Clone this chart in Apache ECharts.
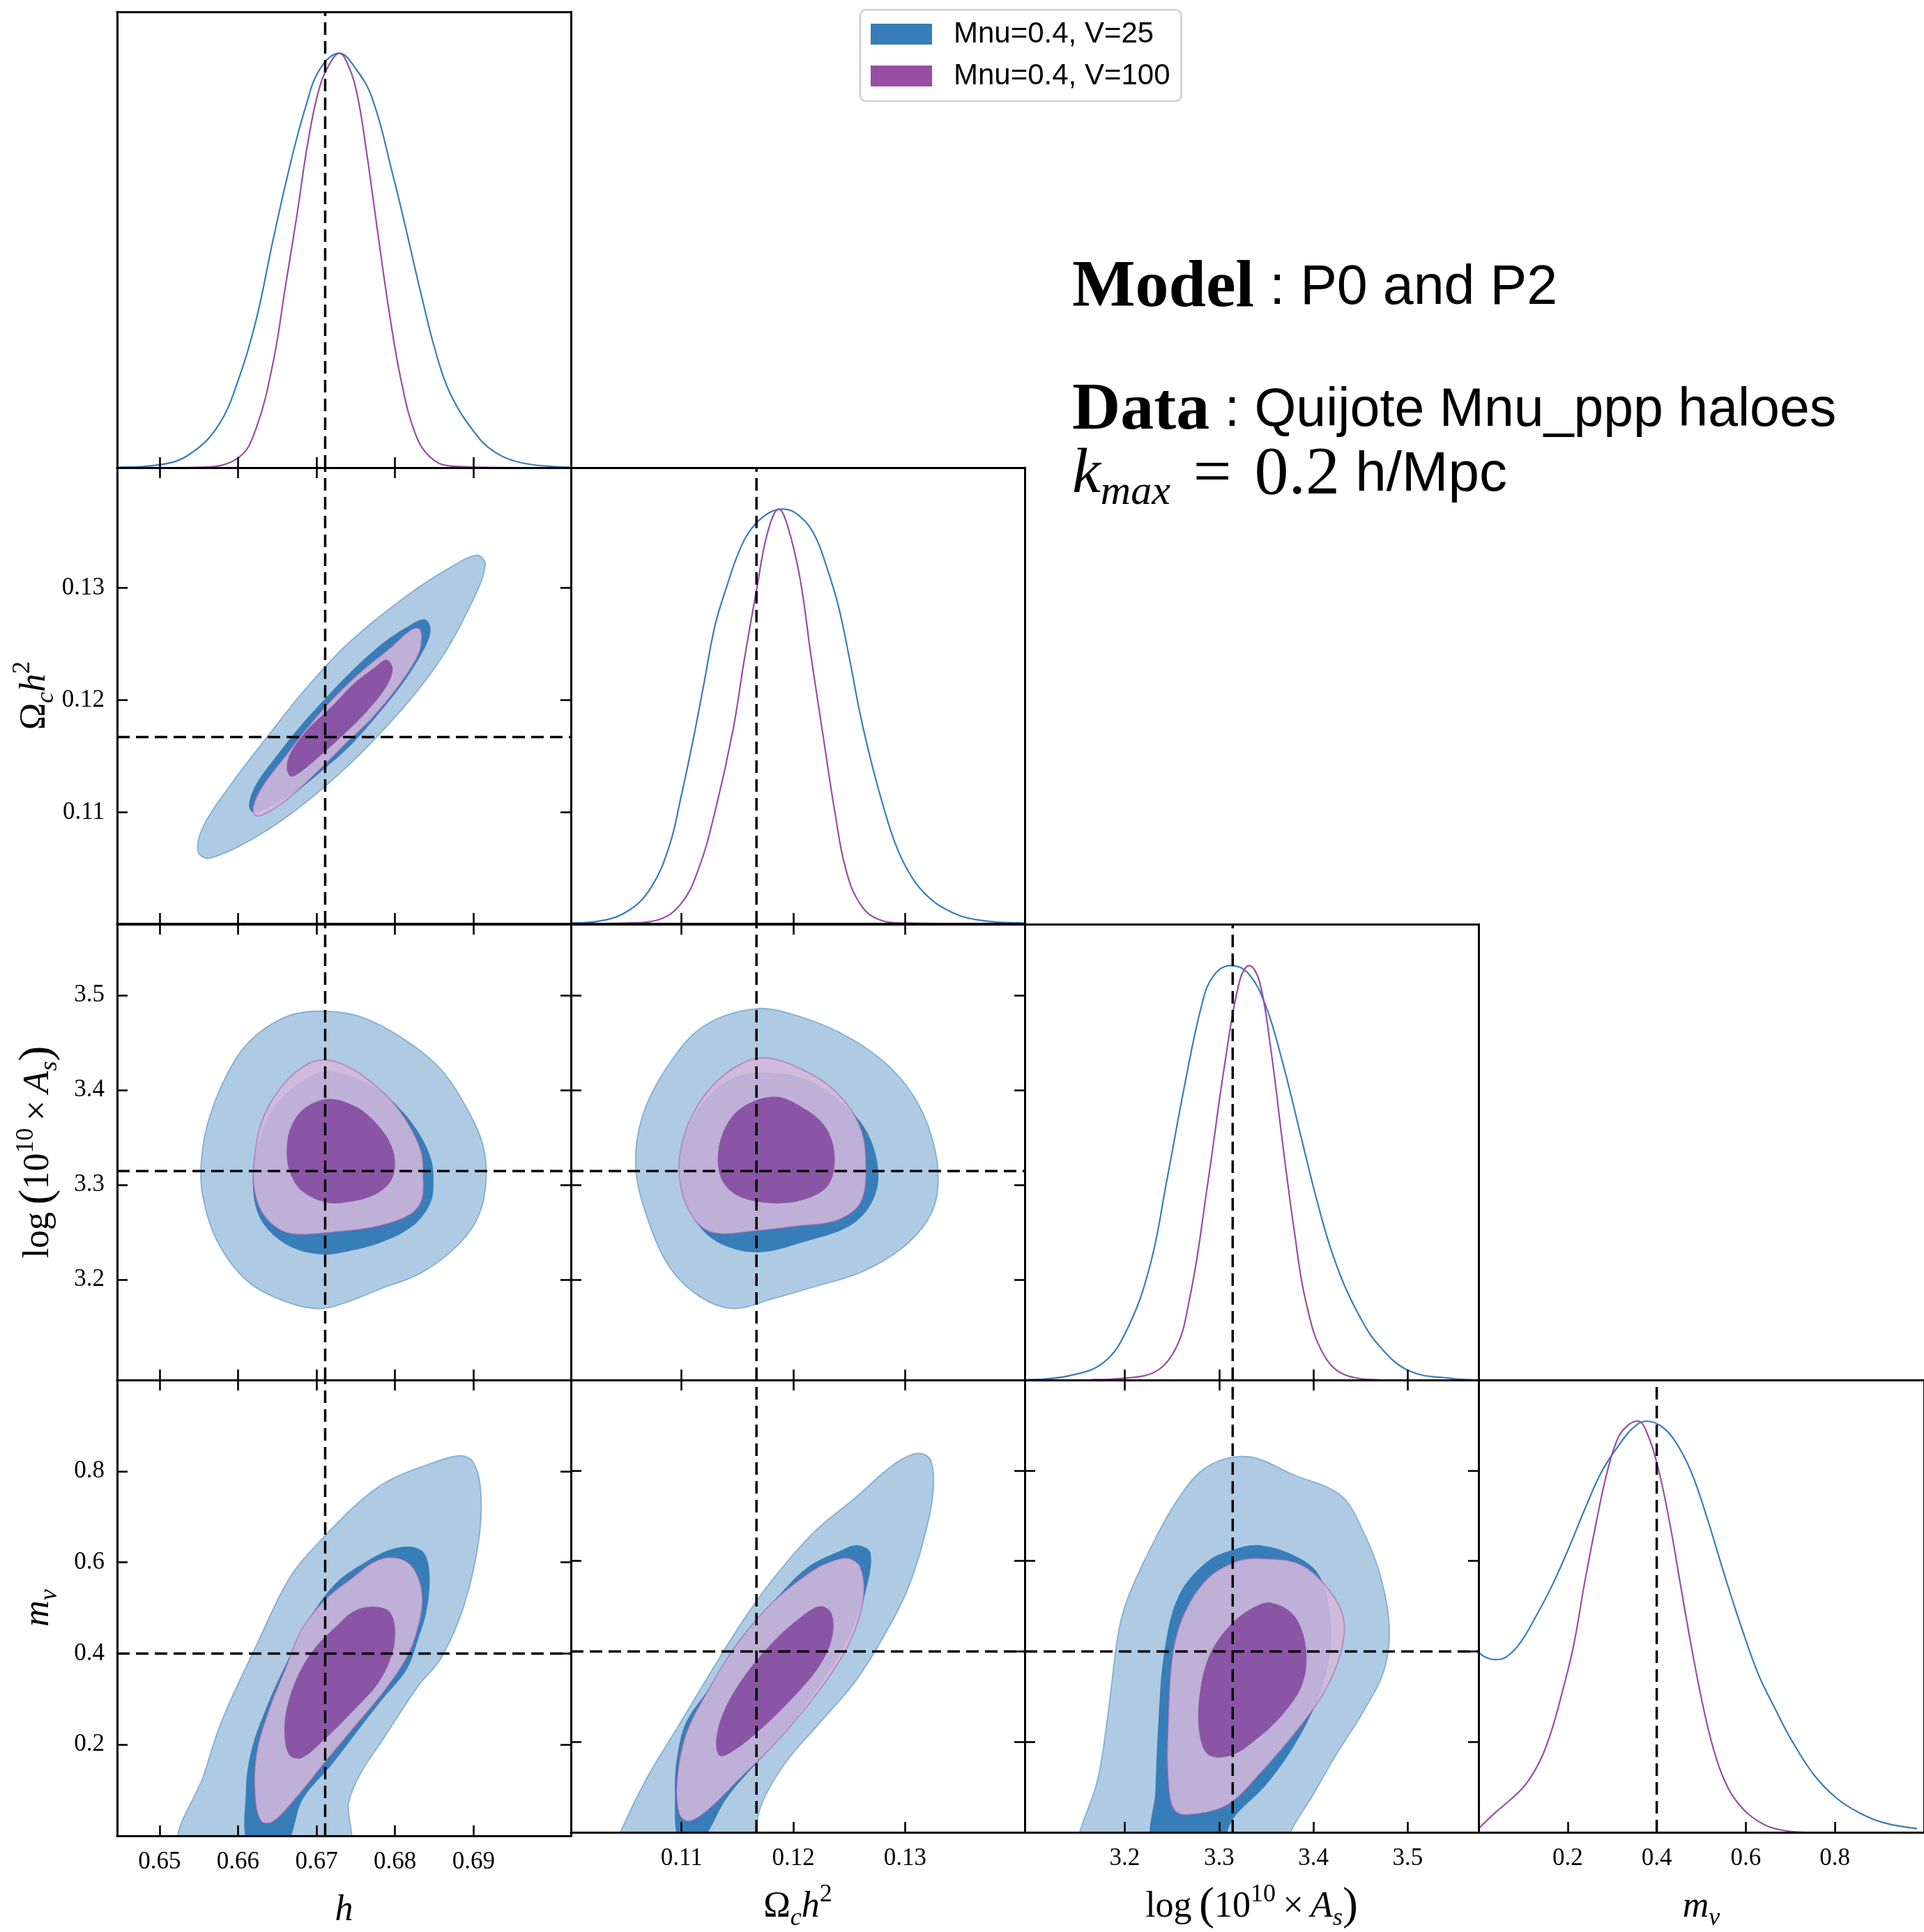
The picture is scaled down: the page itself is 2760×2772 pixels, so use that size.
<!DOCTYPE html>
<html>
<head>
<meta charset="utf-8">
<title>Mnu triangle plot</title>
<script src="https://cdn.jsdelivr.net/npm/echarts@6/dist/echarts.min.js"></script>
<style>
  html, body { margin: 0; padding: 0; background: #fff; }
  #chart { width: 2760px; height: 2772px; }
</style>
</head>
<body>
<div id="chart"></div>
<script>
// ---- parameters: axis ranges, ticks, fiducial values ----
var hRange = [0.6446, 0.7024];
var omRange = [0.1001, 0.1407];
var asRange = [3.094, 3.575];
var mnuRange = [0, 1.0];
var hTicks = [0.65, 0.66, 0.67, 0.68, 0.69];
var omTicks = [0.11, 0.12, 0.13];
var asTicks = [3.2, 3.3, 3.4, 3.5];
var mnuTicks = [0.2, 0.4, 0.6, 0.8];
var truthValues = [0.6711, 0.1167, 3.3144, 0.4];
var legendNames = ['Mnu=0.4, V=25', 'Mnu=0.4, V=100'];

// ---- 1D marginals (normalised to peak 1) ----
var h1dBlue = [[0.6446,0.001],[0.6500,0.007],[0.6538,0.032],[0.6575,0.102],[0.6601,0.215],[0.6623,0.356],[0.6645,0.553],[0.6667,0.736],[0.6686,0.870],[0.6704,0.961],[0.6729,1.0],[0.6748,0.968],[0.6771,0.891],[0.6797,0.708],[0.6815,0.567],[0.6834,0.412],[0.6852,0.278],[0.6870,0.180],[0.6900,0.088],[0.6926,0.039],[0.6963,0.011],[0.7022,0.001]];
var h1dPurple = [[0.6520,0],[0.6556,0.001],[0.6601,0.025],[0.6623,0.095],[0.6645,0.257],[0.6660,0.433],[0.6675,0.609],[0.6689,0.785],[0.6704,0.919],[0.6719,0.982],[0.6729,1.0],[0.6741,0.968],[0.6752,0.898],[0.6763,0.771],[0.6778,0.567],[0.6793,0.370],[0.6808,0.208],[0.6826,0.081],[0.6845,0.025],[0.6870,0.004],[0.6950,0]];
var om1dBlue = [[0.1001,0.001],[0.1027,0.006],[0.1053,0.032],[0.1073,0.088],[0.1089,0.187],[0.1099,0.299],[0.1110,0.439],[0.1120,0.579],[0.1130,0.720],[0.1141,0.818],[0.1151,0.895],[0.1162,0.951],[0.1177,0.989],[0.1191,1.0],[0.1206,0.982],[0.1219,0.937],[0.1229,0.867],[0.1240,0.769],[0.1250,0.642],[0.1260,0.502],[0.1271,0.376],[0.1281,0.278],[0.1291,0.194],[0.1302,0.130],[0.1317,0.074],[0.1338,0.032],[0.1364,0.009],[0.1406,0.001]];
var om1dPurple = [[0.1030,0],[0.1053,0.001],[0.1078,0.008],[0.1099,0.046],[0.1115,0.130],[0.1130,0.271],[0.1146,0.467],[0.1156,0.635],[0.1167,0.804],[0.1177,0.944],[0.1187,1.0],[0.1195,0.958],[0.1206,0.832],[0.1216,0.642],[0.1227,0.446],[0.1237,0.271],[0.1247,0.130],[0.1260,0.046],[0.1276,0.010],[0.1299,0.001],[0.1330,0]];
var as1dBlue = [[3.0975,0.001],[3.1405,0.010],[3.1773,0.042],[3.2018,0.119],[3.2264,0.273],[3.2448,0.484],[3.2632,0.708],[3.2816,0.905],[3.2939,0.975],[3.3123,1.0],[3.3307,0.982],[3.3491,0.905],[3.3675,0.765],[3.3859,0.596],[3.4043,0.428],[3.4227,0.288],[3.4472,0.161],[3.4718,0.077],[3.5025,0.021],[3.5454,0.004],[3.5736,0]];
var as1dPurple = [[3.1650,0.001],[3.2202,0.010],[3.2509,0.063],[3.2693,0.203],[3.2877,0.470],[3.3061,0.764],[3.3215,0.961],[3.3319,1.0],[3.3429,0.961],[3.3552,0.792],[3.3675,0.568],[3.3798,0.358],[3.3920,0.189],[3.4104,0.063],[3.4350,0.011],[3.4718,0]];
var mnu1dBlue = [[0,0.438],[0.0188,0.424],[0.0377,0.420],[0.0628,0.427],[0.0942,0.462],[0.1256,0.519],[0.1633,0.596],[0.2009,0.687],[0.2386,0.786],[0.2763,0.877],[0.3140,0.940],[0.3454,0.982],[0.3768,1.0],[0.4082,0.989],[0.4396,0.954],[0.4772,0.877],[0.5149,0.758],[0.5526,0.624],[0.5903,0.498],[0.6279,0.385],[0.6656,0.301],[0.7033,0.223],[0.7535,0.139],[0.8038,0.083],[0.8540,0.048],[0.9105,0.023],[0.9846,0.009]];
var mnu1dPurple = [[0,0.009],[0.0377,0.048],[0.0754,0.083],[0.1068,0.118],[0.1381,0.174],[0.1633,0.245],[0.1884,0.343],[0.2135,0.455],[0.2386,0.610],[0.2637,0.751],[0.2889,0.877],[0.3140,0.961],[0.3391,0.993],[0.3579,1.0],[0.3768,0.975],[0.4019,0.891],[0.4270,0.765],[0.4521,0.610],[0.4772,0.455],[0.5024,0.315],[0.5275,0.202],[0.5526,0.125],[0.5840,0.069],[0.6279,0.027],[0.6782,0.006],[0.7535,0],[1.0,0]];

// ---- 2D contours: 95% (outer) and 68% (inner) for each run ----
var hOm_b95 = [[0.6904,0.1329],[0.6915,0.1321],[0.6900,0.1290],[0.6852,0.1230],[0.6778,0.1168],[0.6704,0.1119],[0.6630,0.1081],[0.6564,0.1059],[0.6549,0.1065],[0.6556,0.1088],[0.6593,0.1127],[0.6638,0.1168],[0.6686,0.1210],[0.6741,0.1251],[0.6815,0.1293],[0.6870,0.1318]];
var hOm_b68 = [[0.6837,0.1272],[0.6845,0.1265],[0.6841,0.1251],[0.6815,0.1220],[0.6778,0.1187],[0.6741,0.1158],[0.6712,0.1140],[0.6675,0.1119],[0.6638,0.1104],[0.6619,0.1100],[0.6614,0.1107],[0.6623,0.1125],[0.6652,0.1153],[0.6682,0.1179],[0.6712,0.1202],[0.6748,0.1228],[0.6785,0.1251],[0.6815,0.1265]];
var hOm_p95 = [[0.6830,0.1264],[0.6834,0.1258],[0.6830,0.1241],[0.6804,0.1212],[0.6771,0.1184],[0.6737,0.1161],[0.6704,0.1138],[0.6667,0.1114],[0.6638,0.1100],[0.6623,0.1097],[0.6619,0.1104],[0.6630,0.1122],[0.6660,0.1150],[0.6689,0.1176],[0.6719,0.1200],[0.6756,0.1225],[0.6793,0.1246],[0.6819,0.1262]];
var hOm_p68 = [[0.6789,0.1236],[0.6797,0.1228],[0.6789,0.1212],[0.6763,0.1189],[0.6734,0.1169],[0.6704,0.1150],[0.6678,0.1135],[0.6667,0.1132],[0.6662,0.1140],[0.6667,0.1153],[0.6689,0.1174],[0.6719,0.1194],[0.6748,0.1215],[0.6774,0.1229]];

var hAs_b95 = [[0.6712,3.4832],[0.6760,3.4762],[0.6815,3.4517],[0.6859,3.4212],[0.6893,3.3784],[0.6912,3.3418],[0.6916,3.3051],[0.6907,3.2684],[0.6882,3.2379],[0.6834,3.2073],[0.6778,3.1890],[0.6741,3.1768],[0.6704,3.1692],[0.6660,3.1768],[0.6612,3.1982],[0.6575,3.2379],[0.6556,3.2837],[0.6553,3.3234],[0.6564,3.3723],[0.6593,3.4273],[0.6623,3.4578],[0.6667,3.4792]];
var hAs_b68 = [[0.6712,3.4197],[0.6760,3.4090],[0.6797,3.3876],[0.6826,3.3601],[0.6845,3.3295],[0.6849,3.3051],[0.6845,3.2807],[0.6822,3.2562],[0.6778,3.2379],[0.6734,3.2287],[0.6712,3.2263],[0.6675,3.2318],[0.6645,3.2470],[0.6626,3.2684],[0.6619,3.2990],[0.6623,3.3356],[0.6641,3.3754],[0.6671,3.4028]];
var hAs_p95 = [[0.6710,3.4319],[0.6741,3.4242],[0.6771,3.4074],[0.6800,3.3845],[0.6822,3.3570],[0.6834,3.3326],[0.6836,3.3081],[0.6834,3.2837],[0.6819,3.2684],[0.6778,3.2562],[0.6723,3.2501],[0.6675,3.2477],[0.6652,3.2532],[0.6630,3.2715],[0.6620,3.2990],[0.6621,3.3295],[0.6630,3.3662],[0.6652,3.3998],[0.6682,3.4242]];
var hAs_p68 = [[0.6717,3.3906],[0.6752,3.3815],[0.6778,3.3631],[0.6795,3.3418],[0.6800,3.3204],[0.6793,3.3020],[0.6771,3.2883],[0.6737,3.2813],[0.6712,3.2813],[0.6682,3.2929],[0.6667,3.3112],[0.6662,3.3326],[0.6667,3.3601],[0.6686,3.3815]];

var omAs_b95 = [[0.1167,3.4859],[0.1208,3.4767],[0.1250,3.4553],[0.1286,3.4247],[0.1312,3.3849],[0.1327,3.3359],[0.1329,3.2931],[0.1320,3.2625],[0.1296,3.2319],[0.1260,3.2074],[0.1218,3.1921],[0.1182,3.1798],[0.1146,3.1694],[0.1115,3.1829],[0.1089,3.2135],[0.1070,3.2625],[0.1059,3.3176],[0.1065,3.3727],[0.1089,3.4278],[0.1120,3.4676]];
var omAs_b68 = [[0.1172,3.4186],[0.1208,3.4125],[0.1239,3.3910],[0.1265,3.3574],[0.1276,3.3145],[0.1270,3.2808],[0.1250,3.2563],[0.1213,3.2410],[0.1167,3.2288],[0.1130,3.2410],[0.1109,3.2686],[0.1099,3.3053],[0.1102,3.3482],[0.1120,3.3880],[0.1146,3.4125]];
var omAs_p95 = [[0.1172,3.4339],[0.1208,3.4216],[0.1239,3.3971],[0.1260,3.3604],[0.1265,3.3176],[0.1260,3.2808],[0.1239,3.2625],[0.1203,3.2563],[0.1167,3.2514],[0.1130,3.2490],[0.1112,3.2625],[0.1099,3.2992],[0.1100,3.3421],[0.1115,3.3849],[0.1141,3.4186]];
var omAs_p68 = [[0.1182,3.3929],[0.1208,3.3818],[0.1229,3.3604],[0.1237,3.3298],[0.1231,3.2992],[0.1208,3.2839],[0.1177,3.2808],[0.1148,3.2900],[0.1134,3.3114],[0.1135,3.3482],[0.1151,3.3788]];

var hMnu_b95 = [[0.6529,-0.02],[0.6557,0.1364],[0.6579,0.2510],[0.6623,0.4166],[0.6667,0.5694],[0.6711,0.6586],[0.6756,0.7350],[0.6792,0.7796],[0.6837,0.8115],[0.6881,0.8338],[0.6899,0.8210],[0.6909,0.7605],[0.6907,0.6522],[0.6888,0.5058],[0.6859,0.3911],[0.6829,0.3274],[0.6785,0.2128],[0.6756,0.1364],[0.6741,0.0727],[0.6738,-0.02]];
var hMnu_b68 = [[0.6818,0.6344],[0.6837,0.6204],[0.6844,0.5694],[0.6840,0.4930],[0.6829,0.4293],[0.6815,0.3656],[0.6785,0.3019],[0.6756,0.2383],[0.6719,0.1555],[0.6682,0.0790],[0.6660,-0.02],[0.6614,-0.02],[0.6610,0.0981],[0.6617,0.1873],[0.6638,0.2892],[0.6667,0.3975],[0.6697,0.4930],[0.6726,0.5567],[0.6763,0.6013],[0.6792,0.6268]];
var hMnu_p95 = [[0.6792,0.6108],[0.6815,0.6013],[0.6829,0.5694],[0.6835,0.5185],[0.6829,0.4548],[0.6815,0.3911],[0.6785,0.3147],[0.6748,0.2383],[0.6711,0.1618],[0.6675,0.0854],[0.6645,0.0313],[0.6630,0.0313],[0.6622,0.0790],[0.6623,0.1746],[0.6638,0.2701],[0.6660,0.3656],[0.6682,0.4548],[0.6711,0.5185],[0.6748,0.5694],[0.6770,0.5981]];
var hMnu_p68 = [[0.6770,0.5026],[0.6792,0.4930],[0.6800,0.4548],[0.6796,0.3975],[0.6778,0.3338],[0.6748,0.2765],[0.6711,0.2128],[0.6682,0.1714],[0.6667,0.1746],[0.6660,0.2064],[0.6661,0.2701],[0.6675,0.3465],[0.6697,0.4102],[0.6726,0.4612],[0.6748,0.4930]];

var omMnu_b95 = [[0.1043,-0.024],[0.1046,0.004],[0.1068,0.1159],[0.1099,0.2431],[0.1130,0.3702],[0.1156,0.4720],[0.1182,0.5610],[0.1218,0.6627],[0.1255,0.7390],[0.1291,0.8153],[0.1312,0.8381],[0.1323,0.8216],[0.1325,0.7517],[0.1317,0.6500],[0.1302,0.5355],[0.1281,0.4338],[0.1255,0.3321],[0.1224,0.2431],[0.1193,0.1541],[0.1172,0.0651],[0.1166,0.004],[0.1164,-0.024]];
var omMnu_b68 = [[0.1244,0.6245],[0.1257,0.6347],[0.1269,0.6182],[0.1265,0.5355],[0.1250,0.4338],[0.1229,0.3448],[0.1203,0.2558],[0.1172,0.1668],[0.1141,0.0778],[0.1116,-0.024],[0.1098,-0.024],[0.1094,0.0905],[0.1096,0.1668],[0.1104,0.2431],[0.1125,0.3194],[0.1151,0.4211],[0.1182,0.5101],[0.1213,0.5864]];
var omMnu_p95 = [[0.1250,0.6055],[0.1260,0.5864],[0.1263,0.5228],[0.1255,0.4465],[0.1239,0.3702],[0.1213,0.2812],[0.1182,0.1922],[0.1151,0.1159],[0.1125,0.0524],[0.1107,0.0244],[0.1098,0.0397],[0.1096,0.1159],[0.1104,0.2177],[0.1125,0.3194],[0.1151,0.4211],[0.1182,0.5101],[0.1218,0.5800],[0.1237,0.6017]];
var omMnu_p68 = [[0.1224,0.5000],[0.1234,0.4847],[0.1235,0.4338],[0.1224,0.3702],[0.1203,0.3067],[0.1172,0.2304],[0.1146,0.1795],[0.1134,0.1693],[0.1131,0.2049],[0.1138,0.2685],[0.1156,0.3448],[0.1182,0.4211],[0.1208,0.4783]];

var asMnu_b95 = [[3.3307,0.8305],[3.3798,0.7898],[3.4288,0.7453],[3.4534,0.6627],[3.4718,0.5610],[3.4804,0.4529],[3.4748,0.3575],[3.4534,0.2685],[3.4227,0.1668],[3.3982,0.0778],[3.3767,0.004],[3.3767,-0.024],[3.1515,-0.024],[3.1528,0.004],[3.1712,0.1159],[3.1834,0.2812],[3.1926,0.4338],[3.2018,0.5101],[3.2264,0.6245],[3.2571,0.7390],[3.2877,0.8089]];
var asMnu_b68 = [[3.3429,0.6347],[3.3798,0.6118],[3.4043,0.5737],[3.4166,0.4974],[3.4178,0.3957],[3.4043,0.2939],[3.3798,0.1922],[3.3491,0.1032],[3.3184,0.0397],[3.3092,0.004],[3.3092,-0.024],[3.2313,-0.024],[3.2325,0.0905],[3.2356,0.2431],[3.2417,0.3957],[3.2571,0.5228],[3.2877,0.5991],[3.3184,0.6271]];
var asMnu_p95 = [[3.3429,0.6055],[3.3859,0.5927],[3.4166,0.5355],[3.4319,0.4720],[3.4288,0.3957],[3.4104,0.3067],[3.3798,0.2177],[3.3429,0.1287],[3.3123,0.0651],[3.2816,0.0422],[3.2540,0.0460],[3.2460,0.1159],[3.2460,0.2431],[3.2509,0.3957],[3.2632,0.4847],[3.2877,0.5610],[3.3184,0.5991]];
var asMnu_p68 = [[3.3552,0.5076],[3.3798,0.4783],[3.3920,0.4084],[3.3890,0.3321],[3.3706,0.2685],[3.3429,0.2113],[3.3123,0.1693],[3.2877,0.1731],[3.2785,0.2304],[3.2804,0.3194],[3.2908,0.3957],[3.3123,0.4593],[3.3368,0.4974]];

// ---- layout / style ----
var SERIF = 'Liberation Serif, DejaVu Serif, serif';
var SANS = 'Liberation Sans, Arimo, sans-serif';
var BLUE = '#377eb8', PURPLE = '#984ea3';
var panelLeft = [168, 819, 1470, 2121];
var panelTop = [17, 671, 1326, 1980];
var panelW = 651, panelH = 654;

var params = [
  { range: hRange, ticks: hTicks, title: '{i|h}', curves: [h1dBlue, h1dPurple] },
  { range: omRange, ticks: omTicks, title: '{r|Ω}{sub|c}{i|h}{sup|2}', curves: [om1dBlue, om1dPurple] },
  { range: asRange, ticks: asTicks, title: '{r|log\u2009}{p|(}{r|10}{sup|10}{r|\u2009×\u2009}{i|A}{sub|s}{p|)}', curves: [as1dBlue, as1dPurple] },
  { range: mnuRange, ticks: mnuTicks, title: '{i|m}{sub|ν}', curves: [mnu1dBlue, mnu1dPurple] }
];
var contours = {
  '1_0': [hOm_b95, hOm_b68, hOm_p95, hOm_p68],
  '2_0': [hAs_b95, hAs_b68, hAs_p95, hAs_p68],
  '2_1': [omAs_b95, omAs_b68, omAs_p95, omAs_p68],
  '3_0': [hMnu_b95, hMnu_b68, hMnu_p95, hMnu_p68],
  '3_1': [omMnu_b95, omMnu_b68, omMnu_p95, omMnu_p68],
  '3_2': [asMnu_b95, asMnu_b68, asMnu_p95, asMnu_p68]
};
var contourStyles = [
  { fill: '#afcbe3', stroke: 'rgba(55,126,184,0.45)' },
  { fill: BLUE, stroke: null },
  { fill: 'rgba(214,184,218,0.85)', stroke: 'rgba(152,78,163,0.45)' },
  { fill: '#8a55a5', stroke: null }
];

var mathRich = {
  r: { fontFamily: SERIF, fontSize: 52, lineHeight: 70, color: '#000' },
  i: { fontFamily: SERIF, fontStyle: 'italic', fontSize: 52, lineHeight: 70, color: '#000' },
  sub: { fontFamily: SERIF, fontStyle: 'italic', fontSize: 36, lineHeight: 44, verticalAlign: 'bottom', color: '#000' },
  sup: { fontFamily: SERIF, fontSize: 36, lineHeight: 44, verticalAlign: 'top', color: '#000' },
  p: { fontFamily: SERIF, fontSize: 66, lineHeight: 70, color: '#000' }
};

function makeAxis(gi, range, ticks, pos, showTicks, showLabels) {
  return {
    gridIndex: gi, type: 'value', min: range[0], max: range[1], position: pos, z: 5,
    axisLine: { show: true, onZero: false, lineStyle: { color: '#000', width: 3 } },
    axisTick: { show: showTicks, inside: true, length: 15, customValues: ticks, lineStyle: { color: '#000', width: 2.6 } },
    axisLabel: { show: showLabels, customValues: ticks, margin: pos === 'bottom' ? 20 : 18,
      fontFamily: SERIF, fontSize: 35, color: '#000' },
    splitLine: { show: false }
  };
}

function contourSeries(points, ai, style) {
  return {
    type: 'custom', xAxisIndex: ai, yAxisIndex: ai, clip: true, silent: true, z: 2,
    data: points,
    renderItem: function (p, api) {
      if (p.dataIndex !== 0) return;
      var pts = points.map(function (d) { return api.coord(d); });
      return {
        type: 'polygon',
        shape: { points: pts, smooth: 0.35 },
        style: { fill: style.fill, stroke: style.stroke || 'none', lineWidth: style.stroke ? 2 : 0 }
      };
    }
  };
}

function dashed(data, ai) {
  return {
    type: 'line', xAxisIndex: ai, yAxisIndex: ai, data: data, showSymbol: false, silent: true, z: 4,
    lineStyle: { color: '#000', width: 3.5, type: [18, 9] }
  };
}

var grids = [], xAxes = [], yAxes = [], series = [];
var k = 0;
for (var r = 0; r < 4; r++) {
  for (var c = 0; c <= r; c++) {
    var diag = r === c;
    var px = params[c], py = params[r];
    var yRange = diag ? [0, 1.1] : py.range;
    grids.push({ left: panelLeft[c], top: panelTop[r], width: panelW, height: panelH, show: false });

    var xb = makeAxis(k, px.range, px.ticks, 'bottom', true, r === 3);
    if (r === 3) {
      xb.name = px.title; xb.nameLocation = 'middle'; xb.nameGap = 72;
      xb.nameTextStyle = { rich: mathRich };
    }
    xAxes.push(xb, makeAxis(k, px.range, px.ticks, 'top', !diag, false));

    var yl = makeAxis(k, yRange, diag ? [] : py.ticks, 'left', !diag, c === 0 && !diag);
    if (c === 0 && !diag) {
      yl.name = py.title; yl.nameLocation = 'middle'; yl.nameGap = 78; yl.nameRotate = 90;
      yl.nameTextStyle = { rich: mathRich };
    }
    yAxes.push(yl, makeAxis(k, yRange, diag ? [] : py.ticks, 'right', !diag, false));

    var ai = 2 * k;
    if (diag) {
      [BLUE, PURPLE].forEach(function (col, j) {
        series.push({
          name: legendNames[j], type: 'line', xAxisIndex: ai, yAxisIndex: ai,
          data: px.curves[j], showSymbol: false, smooth: 0.4, z: 3, color: col,
          itemStyle: { color: col }, lineStyle: { color: col, width: 2.2 }
        });
      });
      series.push(dashed([[truthValues[c], 0], [truthValues[c], 1.1]], ai));
    } else {
      contours[r + '_' + c].forEach(function (pts, j) {
        series.push(contourSeries(pts, ai, contourStyles[j]));
      });
      series.push(dashed([[truthValues[c], py.range[0]], [truthValues[c], py.range[1]]], ai));
      series.push(dashed([[px.range[0], truthValues[r]], [px.range[1], truthValues[r]]], ai));
    }
    k++;
  }
}

var chart = echarts.init(document.getElementById('chart'));
chart.setOption({
  animation: false,
  backgroundColor: '#fff',
  grid: grids,
  xAxis: xAxes,
  yAxis: yAxes,
  series: series,
  legend: {
    data: legendNames, left: 1234, top: 14, orient: 'vertical', icon: 'rect',
    itemWidth: 88, itemHeight: 30, itemGap: 18, padding: [14, 16, 15, 15],
    borderColor: '#d0d0d0', borderWidth: 2.5, borderRadius: 8, backgroundColor: '#fff',
    textStyle: { fontFamily: SANS, fontSize: 42, lineHeight: 40, color: '#000', padding: [0, 0, 0, 26] }
  },
  graphic: [
    { type: 'text', x: 1538, y: 414, style: {
      text: '{b|Model}{s| : P0 and P2}', verticalAlign: 'middle',
      rich: { b: { fontFamily: SERIF, fontWeight: 'bold', fontSize: 96, fill: '#000' },
              s: { fontFamily: SANS, fontSize: 79, fill: '#000' } } } },
    { type: 'text', x: 1538, y: 590, style: {
      text: '{b|Data}{s| : Quijote Mnu_ppp haloes}', verticalAlign: 'middle',
      rich: { b: { fontFamily: SERIF, fontWeight: 'bold', fontSize: 96, fill: '#000' },
              s: { fontFamily: SANS, fontSize: 77, fill: '#000' } } } },
    { type: 'text', x: 1538, y: 682, style: {
      text: '{k|k}{m|max}{e|\u2004=\u20040.2}{s| h/Mpc}', verticalAlign: 'middle',
      rich: { k: { fontFamily: SERIF, fontStyle: 'italic', fontSize: 92, lineHeight: 110, fill: '#000' },
              m: { fontFamily: SERIF, fontStyle: 'italic', fontSize: 60, lineHeight: 72, verticalAlign: 'bottom', fill: '#000' },
              e: { fontFamily: SERIF, fontSize: 98, lineHeight: 110, fill: '#000' },
              s: { fontFamily: SANS, fontSize: 80, lineHeight: 110, fill: '#000' } } } }
  ]
});
</script>
</body>
</html>
